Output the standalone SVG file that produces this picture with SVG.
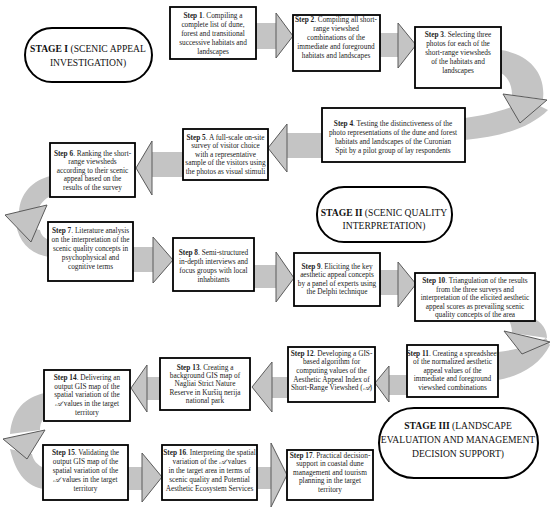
<svg xmlns="http://www.w3.org/2000/svg" width="550" height="512" viewBox="0 0 550 512">
<style>
.box{fill:#fff;stroke:#000;stroke-width:1.8}
.stage{fill:#fff;stroke:#000;stroke-width:2}
.band{fill:#c4c4c4;stroke:none}
.head{fill:#c4c4c4;stroke:#5a5a5a;stroke-width:1}
.t{font-family:"Liberation Serif","DejaVu Serif",serif;font-size:7.3px;fill:#222;text-anchor:middle}
.s{font-family:"Liberation Serif","DejaVu Serif",serif;font-size:9.6px;fill:#111;text-anchor:middle}
.b{font-weight:bold}
</style>
<rect width="550" height="512" fill="#fff"/>
<g id="connectors">
<rect class="band" x="255" y="23" width="22" height="26"/><polygon class="head" points="276,13 293,36 276,58"/>
<rect class="band" x="379" y="33" width="20" height="24"/><polygon class="head" points="398,23 416,45 398,68"/>
<path class="band" d="M501,50 C528,54 546,72 543,99 L512,95 C512,85 508,77 501,73 Z"/>
<path class="band" d="M465,118 C490,115 512,108 528,100 L548,110 C530,128 500,137 465,140 Z"/>
<polygon class="head" points="503,94 547,100 520,123"/>
<rect class="band" x="286" y="133" width="37" height="25"/><polygon class="head" points="287,124 268,148 287,172"/>
<rect class="band" x="151" y="152" width="33" height="25"/><polygon class="head" points="152,141 136,168 152,195"/>
<path class="band" d="M51,176 C32,180 20,194 19,212 L38,210 C40,204 44,199 51,196 Z"/>
<path class="band" d="M16,224 C19,243 31,254 49,257 L49,240 C44,238 41,235 40,230 Z"/>
<polygon class="head" points="5,215 47,205 31,242"/>
<rect class="band" x="132" y="247" width="22" height="25"/><polygon class="head" points="153,237 173,260 153,283"/>
<rect class="band" x="253" y="265" width="24" height="23"/><polygon class="head" points="276,252 294,278 276,302"/>
<rect class="band" x="379" y="270" width="20" height="25"/><polygon class="head" points="398,262 416,284 398,307"/>
<path class="band" d="M508,318 L533,318 C542,322 547,330 547,338 L512,333 C512,327 510,322 508,318 Z"/>
<path class="band" d="M498,352 C515,350 535,345 546,338 L550,345 C540,365 520,376 498,380 Z"/>
<polygon class="head" points="504,331 550,342 522,354"/>
<rect class="band" x="388" y="375" width="20" height="20"/><polygon class="head" points="389,366 375,383 389,402"/>
<rect class="band" x="271" y="377" width="18" height="21"/><polygon class="head" points="272,362 252,387 272,412"/>
<rect class="band" x="146" y="377" width="15" height="23"/><polygon class="head" points="147,365 131,388 147,412"/>
<path class="band" d="M45,393 C25,397 12,410 10,434 L40,430 C40,424 42,420 45,418 Z"/>
<path class="band" d="M10,449 C16,475 28,487 44,489 L44,468 C37,465 33,460 32,454 Z"/>
<polygon class="head" points="3,439 45,430 27,459"/>
<rect class="band" x="127" y="467" width="16" height="23"/><polygon class="head" points="142,453 162,477 142,502"/>
<rect class="band" x="256" y="467" width="16" height="22"/><polygon class="head" points="271,443 287,475 271,507"/>
</g>
<g id="stage1"><rect class="stage" x="25" y="28" width="127" height="54" rx="27" ry="27"/>
<text class="s" x="88" y="52"><tspan class="b">STAGE I</tspan> (SCENIC APPEAL</text><text class="s" x="88" y="66">INVESTIGATION)</text></g>
<g id="stage2"><rect class="stage" x="317" y="187" width="135" height="55" rx="27" ry="27"/>
<text class="s" x="384" y="216"><tspan class="b">STAGE II</tspan> (SCENIC QUALITY</text><text class="s" x="384" y="229">INTERPRETATION)</text></g>
<g id="stage3"><rect class="stage" x="379" y="408" width="159" height="70" rx="35" ry="35"/>
<text class="s" x="458" y="429"><tspan class="b">STAGE III</tspan> (LANDSCAPE</text><text class="s" x="458" y="443">EVALUATION AND MANAGEMENT</text><text class="s" x="458" y="457">DECISION SUPPORT)</text></g>
<g id="step1"><rect class="box" x="170" y="7" width="86" height="52"/>
<text class="t" x="213" y="17.5"><tspan class="b">Step 1</tspan>. Compiling a</text><text class="t" x="213" y="26.5">complete list of dune,</text><text class="t" x="213" y="35.5">forest and transitional</text><text class="t" x="213" y="44.5">successive habitats and</text><text class="t" x="213" y="53.5">landscapes</text></g>
<g id="step2"><rect class="box" x="293" y="15" width="87" height="56"/>
<text class="t" x="336" y="21.5"><tspan class="b">Step 2</tspan>. Compiling all short-</text><text class="t" x="336" y="30.5">range viewshed</text><text class="t" x="336" y="39.5">combinations of the</text><text class="t" x="336" y="48.5">immediate and foreground</text><text class="t" x="336" y="57.5">habitats and  landscapes</text></g>
<g id="step3"><rect class="box" x="415" y="27" width="86" height="61"/>
<text class="t" x="458" y="37"><tspan class="b">Step 3</tspan>. Selecting three</text><text class="t" x="458" y="46">photos for each of the</text><text class="t" x="458" y="55">short-range viewsheds</text><text class="t" x="458" y="64">of the habitats and</text><text class="t" x="458" y="73">landscapes</text></g>
<g id="step4"><rect class="box" x="322" y="108" width="143" height="54"/>
<text class="t" x="393" y="125.5"><tspan class="b">Step 4</tspan>. Testing the distinctiveness of the</text><text class="t" x="393" y="134.5">photo representations of the dune and forest</text><text class="t" x="393" y="143.5">habitats and landscapes of the Curonian</text><text class="t" x="393" y="152.5">Spit by a pilot group of lay respondents</text></g>
<g id="step5"><rect class="box" x="183" y="129" width="85" height="51"/>
<text class="t" x="225.5" y="139.5"><tspan class="b">Step 5</tspan>. A full-scale on-site</text><text class="t" x="225.5" y="148">survey of visitor choice</text><text class="t" x="225.5" y="156.5">with a representative</text><text class="t" x="225.5" y="165">sample of the visitors using</text><text class="t" x="225.5" y="173.5">the photos as visual stimuli</text></g>
<g id="step6"><rect class="box" x="50" y="143" width="85" height="54"/>
<text class="t" x="92.5" y="155.5"><tspan class="b">Step 6</tspan>. Ranking the short-</text><text class="t" x="92.5" y="164">range viewsheds</text><text class="t" x="92.5" y="172.5">according to their scenic</text><text class="t" x="92.5" y="181">appeal based on the</text><text class="t" x="92.5" y="189.5">results of the survey</text></g>
<g id="step7"><rect class="box" x="48" y="222" width="85" height="59"/>
<text class="t" x="90.5" y="232.5"><tspan class="b">Step 7</tspan>. Literature analysis</text><text class="t" x="90.5" y="241.5">on the interpretation of the</text><text class="t" x="90.5" y="250.5">scenic quality concepts in</text><text class="t" x="90.5" y="259.5">psychophysical and</text><text class="t" x="90.5" y="268.5">cognitive terms</text></g>
<g id="step8"><rect class="box" x="173" y="238" width="81" height="53"/>
<text class="t" x="213.5" y="254.5"><tspan class="b">Step 8</tspan>. Semi-structured</text><text class="t" x="213.5" y="263.5">in-depth interviews and</text><text class="t" x="213.5" y="272.5">focus groups with local</text><text class="t" x="213.5" y="281.5">inhabitants</text></g>
<g id="step9"><rect class="box" x="294" y="253" width="86" height="53"/>
<text class="t" x="337" y="268.5"><tspan class="b">Step 9</tspan>. Eliciting the key</text><text class="t" x="337" y="277">aesthetic  appeal concepts</text><text class="t" x="337" y="285.5">by a panel of experts using</text><text class="t" x="337" y="294">the Delphi technique</text></g>
<g id="step10"><rect class="box" x="415" y="273" width="120" height="48"/>
<text class="t" x="475" y="283"><tspan class="b">Step 10</tspan>. Triangulation of the results</text><text class="t" x="475" y="291.5">from the three surveys and</text><text class="t" x="475" y="300">interpretation of the elicited aesthetic</text><text class="t" x="475" y="308.5">appeal scores as prevailing scenic</text><text class="t" x="475" y="317">quality concepts of the area</text></g>
<g id="step11"><rect class="box" x="407" y="345" width="91" height="52"/>
<text class="t" x="452.5" y="355.5"><tspan class="b">Step 11</tspan>. Creating a spreadsheet</text><text class="t" x="452.5" y="364">of the normalized aesthetic</text><text class="t" x="452.5" y="372.5">appeal values of the</text><text class="t" x="452.5" y="381">immediate and foreground</text><text class="t" x="452.5" y="389.5">viewshed  combinations</text></g>
<g id="step12"><rect class="box" x="288" y="347" width="87" height="55"/>
<text class="t" x="331.5" y="355.5"><tspan class="b">Step 12</tspan>. Developing a GIS-</text><text class="t" x="331.5" y="364">based algorithm for</text><text class="t" x="331.5" y="373">computing  values of the</text><text class="t" x="331.5" y="381.5">Aesthetic Appeal Index of</text><text class="t" x="331.5" y="390">Short-Range Viewshed (<tspan font-style="italic">𝒜</tspan>)</text></g>
<g id="step13"><rect class="box" x="160" y="358" width="90" height="52"/>
<text class="t" x="205" y="369.5"><tspan class="b">Step 13</tspan>. Creating a</text><text class="t" x="205" y="377.5">background GIS map of</text><text class="t" x="205" y="386">Nagliai Strict Nature</text><text class="t" x="205" y="394.5">Reserve in Kuršių nerija</text><text class="t" x="205" y="403">national park</text></g>
<g id="step14"><rect class="box" x="44" y="370" width="86" height="51"/>
<text class="t" x="87" y="380"><tspan class="b">Step 14</tspan>. Delivering an</text><text class="t" x="87" y="388.5">output GIS map of the</text><text class="t" x="87" y="397">spatial variation of the</text><text class="t" x="87" y="406"><tspan font-style="italic">𝒜</tspan> values in the target</text><text class="t" x="87" y="415">territory</text></g>
<g id="step15"><rect class="box" x="43" y="445" width="85" height="55"/>
<text class="t" x="85.5" y="455"><tspan class="b">Step 15</tspan>. Validating the</text><text class="t" x="85.5" y="464">output GIS map of the</text><text class="t" x="85.5" y="473">spatial variation of the</text><text class="t" x="85.5" y="482"><tspan font-style="italic">𝒜</tspan> values in the target</text><text class="t" x="85.5" y="491">territory</text></g>
<g id="step16"><rect class="box" x="162" y="445" width="95" height="55"/>
<text class="t" x="209.5" y="455"><tspan class="b">Step 16</tspan>. Interpreting the spatial</text><text class="t" x="209.5" y="464">variation of the <tspan font-style="italic">𝒜</tspan> values</text><text class="t" x="209.5" y="473">in the target area in terms of</text><text class="t" x="209.5" y="482">scenic quality and Potential</text><text class="t" x="209.5" y="491">Aesthetic Ecosystem Services</text></g>
<g id="step17"><rect class="box" x="287" y="450" width="86" height="50"/>
<text class="t" x="330" y="457.5"><tspan class="b">Step 17</tspan>. Practical decision-</text><text class="t" x="330" y="466">support in coastal dune</text><text class="t" x="330" y="474.5">management and tourism</text><text class="t" x="330" y="483">planning in the target</text><text class="t" x="330" y="491.5">territory</text></g>
</svg>
